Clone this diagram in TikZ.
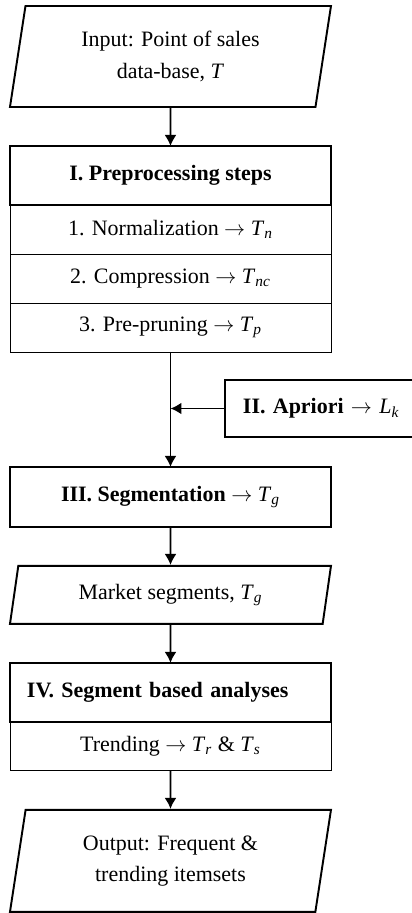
\documentclass[tikz,border=0pt]{standalone}
\usepackage{fontspec}
\setmainfont{Liberation Serif}
\usepackage{tikz}
\usetikzlibrary{arrows.meta,positioning,shapes.geometric}

\newcommand{\figfont}{\fontsize{12.5}{18}\selectfont}
\newcommand{\itsub}[2]{\textit{#1}\textsubscript{\textit{#2}}}

\begin{document}
\begin{tikzpicture}[node distance=0.76cm, every node/.style={font=\figfont},
    io/.style={draw, line width=1.1pt, trapezium, trapezium left angle=76, trapezium right angle=104,
        trapezium stretches body, minimum width=6.42cm, align=center},
    head/.style={draw, line width=1.1pt, outer sep=0pt, minimum width=6.42cm, minimum height=1.18cm, font=\figfont\bfseries},
    row/.style={draw, line width=0.5pt, outer sep=0pt, minimum width=6.42cm, minimum height=0.98cm},
    >={Latex[length=2.2mm,width=2.4mm]}]
    \useasboundingbox (-3.41,0.1) rectangle (4.81,-18.16);
    \node[io, minimum height=2.02cm, anchor=north] (n1) at (0,0) {Input: Point of sales\\data-base, \textit{T}};
    \node[head, below=of n1] (n2) {I. Preprocessing steps};
    \node[row, below=0pt of n2] (n3) {1. Normalization $\rightarrow$ \itsub{T}{n}};
    \node[row, below=0pt of n3] (n4) {2. Compression $\rightarrow$ \itsub{T}{nc}};
    \node[row, below=0pt of n4] (n5) {3. Pre-pruning $\rightarrow$ \itsub{T}{p}};
    \node[head, minimum height=1.2cm, below=2.3cm of n5] (n6) {III. Segmentation $\rightarrow$ \mdseries\itsub{T}{g}};
    \node[head, anchor=west, minimum width=4.2cm, minimum height=1.14cm, align=left, text width=3.48cm, inner xsep=0.36cm] (n7) at (1.09,-8.07) {II. Apriori $\rightarrow$ \mdseries\itsub{L}{k}};
    \node[io, minimum height=1.16cm, below=of n6] (n8) {Market segments, \itsub{T}{g}};
    \node[head, below=of n8, align=left, text width=5.74cm, inner xsep=0.34cm] (n9) {IV. Segment based analyses};
    \node[row, below=0pt of n9] (n10) {Trending $\rightarrow$ \itsub{T}{r} \& \itsub{T}{s}};
    \node[io, minimum height=2.04cm, below=of n10] (n11) {Output: Frequent \&\\trending itemsets};
    \coordinate (j1) at (n7.west -| n5.south);
    \draw[->, line width=1.1pt] (n1) -- (n2);
    \draw[->, line width=1.1pt] (n5) -- (n6);
    \draw[->, line width=1.1pt] (n7.west) -- (j1);
    \draw[->, line width=1.1pt] (n6) -- (n8);
    \draw[->, line width=1.1pt] (n8) -- (n9);
    \draw[->, line width=1.1pt] (n10) -- (n11);
\end{tikzpicture}
\end{document}
